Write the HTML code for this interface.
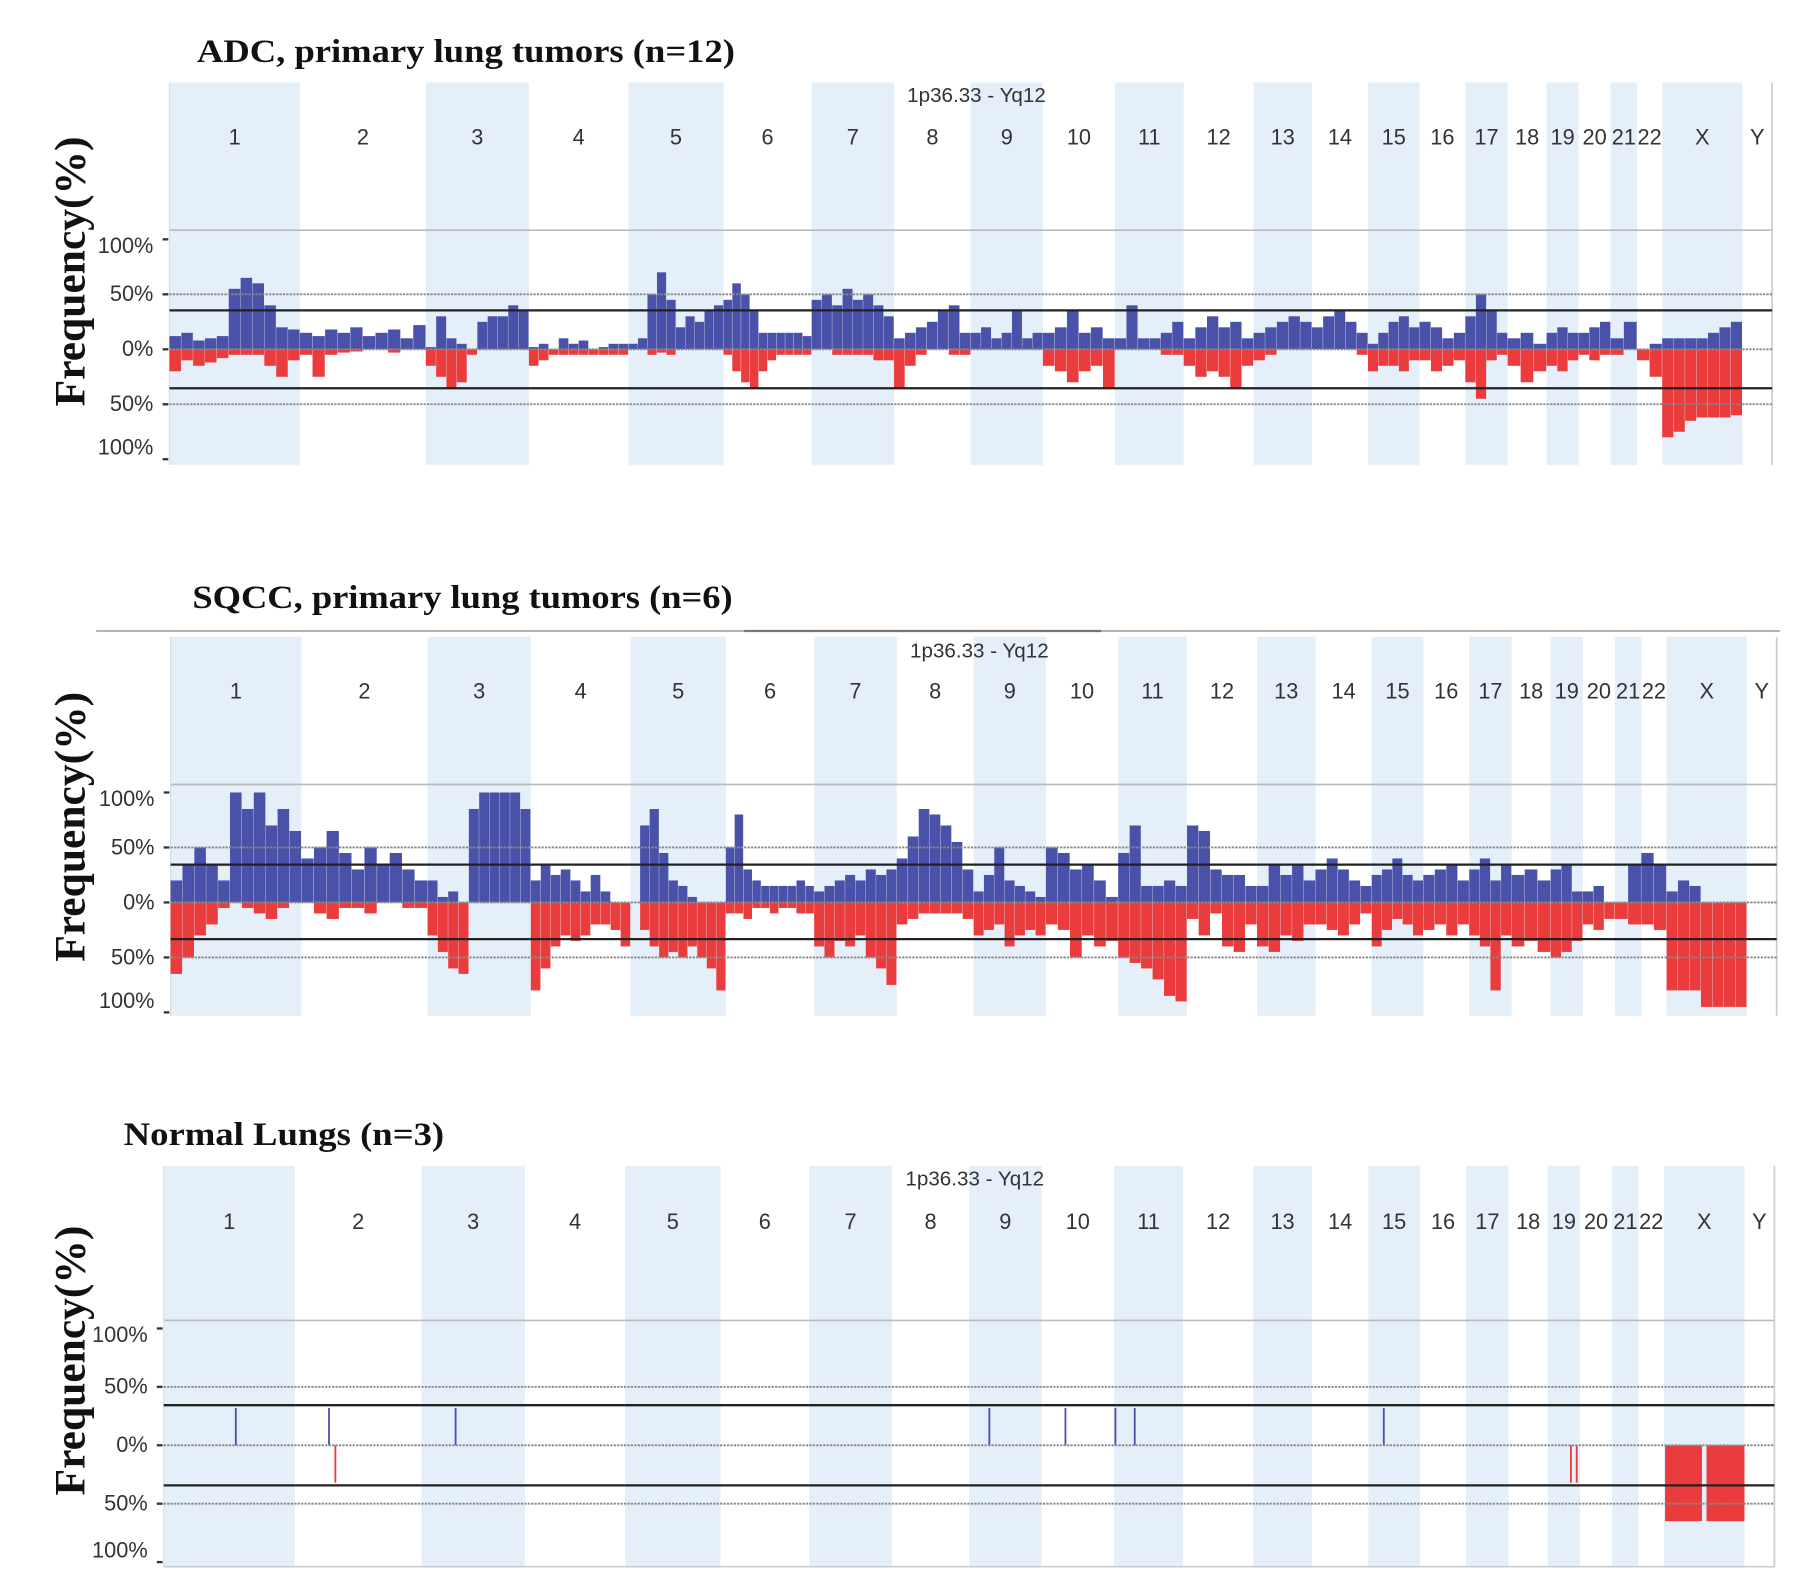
<!DOCTYPE html>
<html><head><meta charset="utf-8"><style>
html,body{margin:0;padding:0;background:#fff;}
svg{display:block;}
.t{font-family:"Liberation Serif",serif;font-weight:bold;fill:#111;}
.s{font-family:"Liberation Sans",sans-serif;fill:#333;}
</style></head><body>
<svg id="fig" width="1795" height="1585" viewBox="0 0 1568 1384" preserveAspectRatio="none" xmlns="http://www.w3.org/2000/svg"></svg>
<script>
// ---- data ----
const chromNames = ["1","2","3","4","5","6","7","8","9","10","11","12","13","14","15","16","17","18","19","20","21","22","X","Y"];
const chromLengths = [114,110,90,87,83,77,72,67,63,63,60,61,51,49,45,40,37,34,28,28,23,22,70,26];
const yTickLabels = ["100%","50%","0%","50%","100%"];
const yTickValues = [100,50,0,-50,-100];

const adcGain = [
 [12,15,8,10,12,55,65,60,40,20,18],[15,12,18,15,20,12,15,18,10,22],[2,30,10,5,0,25,30,30,40,35],
 [2,5,0,10,5,8,0,2,5,5],[5,10,50,70,45,20,30,25,35,40],[45,60,50,35,15,15,15,15,15,12],
 [45,50,40,55,45,50,40,30],[10,15,20,25,35,40,15],[15,20,10,15,35,10,15],[15,20,35,15,20,10],
 [10,40,10,10,15,25],[10,20,30,20,25,10],[15,20,25,30,25],[20,30,35,25,15],[5,15,25,30,20],
 [25,20,10,15],[30,50,35,15],[10,15,5],[15,20,15],[15,20,25],[10,25],[0,5],[10,10,10,10,15,20,25],[]];
const adcLoss = [
 [20,10,15,12,8,5,5,5,15,25,10],[5,25,5,3,2,0,0,3,0,0],[15,25,35,30,5,0,0,0,0,0],
 [15,10,5,5,5,5,5,5,5,5],[0,0,5,3,5,0,0,0,0,0],[5,20,30,35,20,10,5,5,5,5],
 [0,0,5,5,5,5,10,10],[35,15,5,0,0,5,5],[0,0,0,0,0,0,0],[15,20,30,20,15,35],
 [0,0,0,0,5,5],[15,25,20,25,35,15],[10,5,0,0,0],[0,0,0,0,5],[20,15,15,20,10],
 [10,20,15,10],[30,45,10,5],[15,30,20],[15,20,10],[5,10,5],[5,0],[10,25],[80,75,65,62,62,62,60],[]];

const sqccGain = [
 [20,35,50,35,20,100,85,100,70,85,65],[40,50,65,45,30,50,35,45,30,20],[20,5,10,0,85,100,100,100,100,85],
 [20,35,25,30,20,10,25,10,0,0],[0,70,85,45,20,15,5,0,0,0],[50,80,30,20,15,15,15,15,20,15],
 [10,15,20,25,20,30,25,30],[40,60,85,80,70,55,30],[10,25,50,20,15,10,5],[50,45,30,35,20,5],
 [45,70,15,15,20,15],[70,65,30,25,25,15],[15,35,25,35,20],[30,40,30,20,15],[25,30,40,25,20],
 [25,30,35,20],[30,40,20,35],[25,30,20],[30,35,10],[10,15,0],[0,35],[45,35],[10,20,15,0,0,0,0],[]];
const sqccLoss = [
 [65,50,30,20,5,0,5,10,15,5,0],[0,10,15,5,5,10,0,0,5,5],[30,45,60,65,0,0,0,0,0,0],
 [80,60,40,30,35,30,20,20,25,40],[0,25,40,50,45,50,40,50,60,80],[10,10,15,5,5,10,5,5,10,10],
 [40,50,35,40,30,50,60,75],[20,15,10,10,10,10,15],[30,25,20,40,30,25,30],[20,25,50,30,40,35],
 [50,55,60,70,85,90],[15,30,10,40,45,20],[40,45,30,35,20],[20,25,30,20,10],[40,25,15,20,30],
 [25,20,30,20],[30,40,80,30],[40,35,45],[50,45,35],[20,25,15],[15,20],[20,25],[80,80,80,95,95,95,95],[]];

// normal lungs: sparse events [chromIndex, fractionWithinChrom, value]
const normalGainChrom = [0,1,2,8,9,10,10,14];
const normalGainPos   = [0.55,0.27,0.33,0.28,0.33,0.02,0.3,0.3];
const normalGainVal   = [32,32,32,32,32,32,32,32];
const normalLossChrom = [1,18,18];
const normalLossPos   = [0.32,0.72,0.9];
const normalLossVal   = [32,32,32];
const normalXLoss = [65,65];

// ---- drawing ----
const svg = document.getElementById('fig');
const NS = 'http://www.w3.org/2000/svg';
function mk(tag, attrs, parent){
  const e = document.createElementNS(NS, tag);
  for (const k in attrs) e.setAttribute(k, attrs[k]);
  (parent||svg).appendChild(e);
  return e;
}
const totalLen = chromLengths.reduce((a,b)=>a+b,0);

const panels = [
 {name:'adc', title:'ADC, primary lung tumors (n=12)', tw:470, tx:172, ty:54, x0:148, x1:1548, top:72, bot:406, locY:89, chrY:126, grayY:201, zero:305, s:96, thr:[271,339], ytitle:237, gain:adcGain, loss:adcLoss},
 {name:'sqcc', title:'SQCC, primary lung tumors (n=6)', tw:472, tx:168, ty:531, x0:149, x1:1552, top:556, bot:887, locY:574, chrY:610, grayY:685, zero:788, s:96, thr:[755,820], ytitle:722, gain:sqccGain, loss:sqccLoss},
 {name:'normal', title:'Normal Lungs (n=3)', tw:280, tx:108, ty:1000, x0:143, x1:1550, top:1018, bot:1368, locY:1035, chrY:1073, grayY:1153, zero:1262, s:102, thr:[1227,1297], ytitle:1188}
];

panels.forEach((p,pi)=>{
  const g = mk('g',{});
  
  
  const xs = v => p.x0 + (v/totalLen)*(p.x1-p.x0);
  const ys = v => p.zero - v/100*p.s;
  const starts=[]; let acc=0;
  chromLengths.forEach(l=>{starts.push(acc); acc+=l;});

  chromLengths.forEach((l,i)=>{
    if(i%2===0 && i<23){
      const r = mk('rect',{x:xs(starts[i]),y:p.top,width:xs(starts[i]+l)-xs(starts[i]),height:p.bot-p.top,fill:'#e4effa'},g);
      
      
    }
  });
  const t = mk('text',{x:p.tx,y:p.ty,'font-size':29,class:'t',textLength:p.tw,lengthAdjust:'spacingAndGlyphs'},g);
  t.textContent = p.title;
  
  
  if(pi===1){
    const sep = mk('line',{x1:84,y1:551,x2:1555,y2:551,stroke:'#aaa','stroke-width':1.5},g);
    
    
    mk('line',{x1:650,y1:551,x2:962,y2:551,stroke:'#777','stroke-width':2},g);
  }
  const yt = mk('text',{x:0,y:0,'font-size':38,class:'t','text-anchor':'middle',transform:`translate(74,${p.ytitle}) rotate(-90)`},g);
  yt.textContent='Frequency(%)';
  
  
  const lc = mk('text',{x:(p.x0+p.x1)/2+5,y:p.locY,'font-size':18,class:'s','text-anchor':'middle'},g);
  lc.textContent='1p36.33 - Yq12';
  
  
  chromLengths.forEach((l,i)=>{
    let cx = xs(starts[i]+l/2);
    const c = mk('text',{x:cx,y:p.chrY,'font-size':19,class:'s','text-anchor':'middle'},g);
    c.textContent = chromNames[i];
    
    
  });
  mk('line',{x1:p.x0,y1:p.grayY,x2:p.x1,y2:p.grayY,stroke:'#bbb','stroke-width':1.5},g);
  mk('line',{x1:p.x1,y1:p.top,x2:p.x1,y2:p.bot,stroke:'#ccc','stroke-width':1.5},g);
  mk('line',{x1:p.x0,y1:p.top,x2:p.x0,y2:p.bot,stroke:'#ddd','stroke-width':1},g);
  if(pi===2) mk('line',{x1:p.x0,y1:p.bot,x2:p.x1,y2:p.bot,stroke:'#ccc','stroke-width':1.5},g);

  const drawBars=(arr,sign,color,label)=>{
    arr.forEach((vals,i)=>{
      if(!vals.length) return;
      const w = chromLengths[i]/vals.length;
      vals.forEach((v,j)=>{
        if(v<=0) return;
        const xa = xs(starts[i]+j*w), xb = xs(starts[i]+(j+1)*w);
        const ya = ys(sign*v);
        const r = mk('rect',{x:xa,y:Math.min(ya,p.zero),width:Math.max(xb-xa-0.3,0.5),height:Math.abs(ya-p.zero),fill:color},g);
        
        
      });
    });
  };
  if(p.gain){ drawBars(p.gain,1,'#4a51a9','gain'); drawBars(p.loss,-1,'#ea3b3d','loss'); }
  else {
    normalGainChrom.forEach((c,k)=>{
      const x = xs(starts[c]+normalGainPos[k]*chromLengths[c]);
      const l = mk('line',{x1:x,y1:p.zero,x2:x,y2:ys(normalGainVal[k]),stroke:'#4a51a9','stroke-width':1.6},g);
      
      
    });
    normalLossChrom.forEach((c,k)=>{
      const x = xs(starts[c]+normalLossPos[k]*chromLengths[c]);
      const l = mk('line',{x1:x,y1:p.zero,x2:x,y2:ys(-normalLossVal[k]),stroke:'#ea3b3d','stroke-width':1.6},g);
      
      
    });
    const xi=22, half=chromLengths[xi]/2;
    normalXLoss.forEach((v,k)=>{
      const xa = xs(starts[xi]+k*half)+ (k?2:1), xb = xs(starts[xi]+(k+1)*half)-(k?0:2);
      const r = mk('rect',{x:xa,y:p.zero,width:xb-xa,height:ys(-v)-p.zero,fill:'#ea3b3d'},g);
      
      
    });
  }
  [50,0,-50].forEach(v=>{
    mk('line',{x1:p.x0-6,y1:ys(v),x2:p.x1,y2:ys(v),stroke:'#888','stroke-width':1.6,'stroke-dasharray':'2,1'},g);
  });
  p.thr.forEach(y=>{
    const l = mk('line',{x1:p.x0,y1:y,x2:p.x1,y2:y,stroke:'#222','stroke-width':2},g);
    
    
  });
  yTickValues.forEach((v,k)=>{
    const y = ys(v);
    mk('line',{x1:p.x0-6,y1:y,x2:p.x0-1,y2:y,stroke:'#333','stroke-width':2},g);
    const tl = mk('text',{x:p.x0-14,y:y+(v===100?12:v===-100?-4:6),'font-size':19,class:'s','text-anchor':'end'},g);
    tl.textContent = yTickLabels[k];
    
    
  });
});
</script>
</body></html>
